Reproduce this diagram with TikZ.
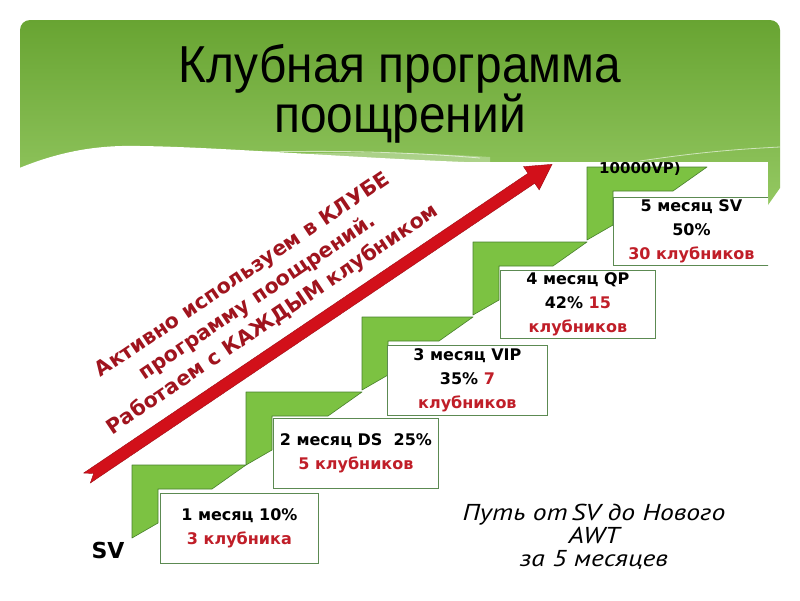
\documentclass[tikz,border=0pt]{standalone}
\usepackage{fontspec}
\setmainfont{DejaVu Sans}
\newfontfamily\titlefont[FakeStretch=0.92]{Liberation Sans}
\newfontfamily\notefont[FakeStretch=1.2]{PT Sans}
\usepackage{tikz}

\definecolor{hdrtop}{RGB}{104,164,50}
\definecolor{hdrbot}{RGB}{148,200,98}
\definecolor{stairgreen}{RGB}{124,194,66}
\definecolor{stairedge}{RGB}{72,128,44}
\definecolor{boxedge}{RGB}{92,138,82}
\definecolor{clubred}{RGB}{192,30,40}
\definecolor{slogan}{RGB}{160,20,30}
\definecolor{arrowred}{RGB}{210,16,26}

\begin{document}
\begin{tikzpicture}[x=1pt,y=-1pt]
\tikzstyle{every node}+=[inner sep=0pt]
\tikzset{
  stair/.style={fill=stairgreen, draw=stairedge, line width=0.6pt, line join=round},
  stepbox/.style={draw=boxedge, line width=0.8pt, fill=white, anchor=north west,
    minimum height=70pt, align=center, font=\bfseries\fontsize{16}{24}\selectfont},
  titletext/.style={anchor=base, font=\titlefont\fontsize{52}{52}\selectfont},
  slogantext/.style={align=center, text=slogan, font=\bfseries\fontsize{20.5}{27}\selectfont}
}
\useasboundingbox (0,0) rectangle (800,600);
\fill[white] (0,0) rectangle (800,600);

% header
\shade[top color=hdrtop, bottom color=hdrbot] (20,200) [rounded corners=10pt] -- (20,20) -- (780,20)
  [sharp corners] -- (780,188) -- (768,205) -- cycle;
\fill[white] (10,172) .. controls (60,150) and (100,145) .. (140,146)
  .. controls (220,147) and (350,158) .. (490,163) -- (490,210) -- (10,210) -- cycle;
\fill[white, opacity=0.3] (250,161) .. controls (280,151) and (380,150) .. (490,157) -- (490,163) -- (250,163) -- cycle;
\draw[white, opacity=0.6, line width=0.8pt] (262,152) .. controls (350,150) and (420,153) .. (480,158);
\draw[white, opacity=0.6, line width=0.8pt] (640,161) .. controls (700,152) and (740,149) .. (780,147);
\node[titletext] (title1) at (400,82) {Клубная программа};
\node[titletext] (title2) at (400,132) {поощрений};

% picture
\fill[white] (137,162) rectangle (768,600);
\begin{scope}
\clip (0,162) rectangle (768,600);
\foreach \x/\y/\nx in {132/465/246, 246/392/362, 362/317/473, 473/242/587, 587/167/707}
  \draw[stair] (\x,\y+73) -- (\x,\y) -- (\nx,\y) -- (\nx-34,\y+24) -- (\x+26,\y+24) -- (\x+26,\y+58) -- cycle;
\node[font=\bfseries\fontsize{15}{15}\selectfont] (vp) at (640,169) {10000VP)};

\node[stepbox, minimum width=158pt] (m1) at (160,493) {1 месяц 10\%\\\textcolor{clubred}{3 клубника}};
\node[stepbox, minimum width=165pt] (m2) at (273,418) {2 месяц DS\ \ 25\%\\\textcolor{clubred}{5 клубников}};
\node[stepbox, minimum width=160pt] (m3) at (387,345) {3 месяц VIP\\35\% \textcolor{clubred}{7}\\\textcolor{clubred}{клубников}};
\node[stepbox, minimum width=155pt, minimum height=68pt] (m4) at (500,270) {4 месяц QP\\42\% \textcolor{clubred}{15}\\\textcolor{clubred}{клубников}};
\node[stepbox, minimum width=156pt, minimum height=68pt] (m5) at (613,197) {5 месяц SV\\50\%\\\textcolor{clubred}{30 клубников}};

% red arrow
\begin{scope}[shift={(87,478)}, rotate=34]
\fill[arrowred, draw=arrowred!75!black, line width=0.4pt] (0,-6) -- (536,-6) -- (536,-14) -- (561,0) -- (536,14) -- (536,6) -- (0,6) -- (8,0) -- cycle;
\end{scope}
\node[slogantext, rotate=34] (slogan) at (258,298) {Активно используем в КЛУБЕ\\программу поощрений.\\Работаем с КАЖДЫМ клубником};
\end{scope}

\node[font=\bfseries\fontsize{22}{22}\selectfont] (sv) at (108,550) {SV};
\node[align=center, font=\notefont\itshape\fontsize{23}{23}\selectfont] (note) at (594,537)
  {Путь от\,SV до Нового\\AWT\\за 5 месяцев};
\end{tikzpicture}
\end{document}
